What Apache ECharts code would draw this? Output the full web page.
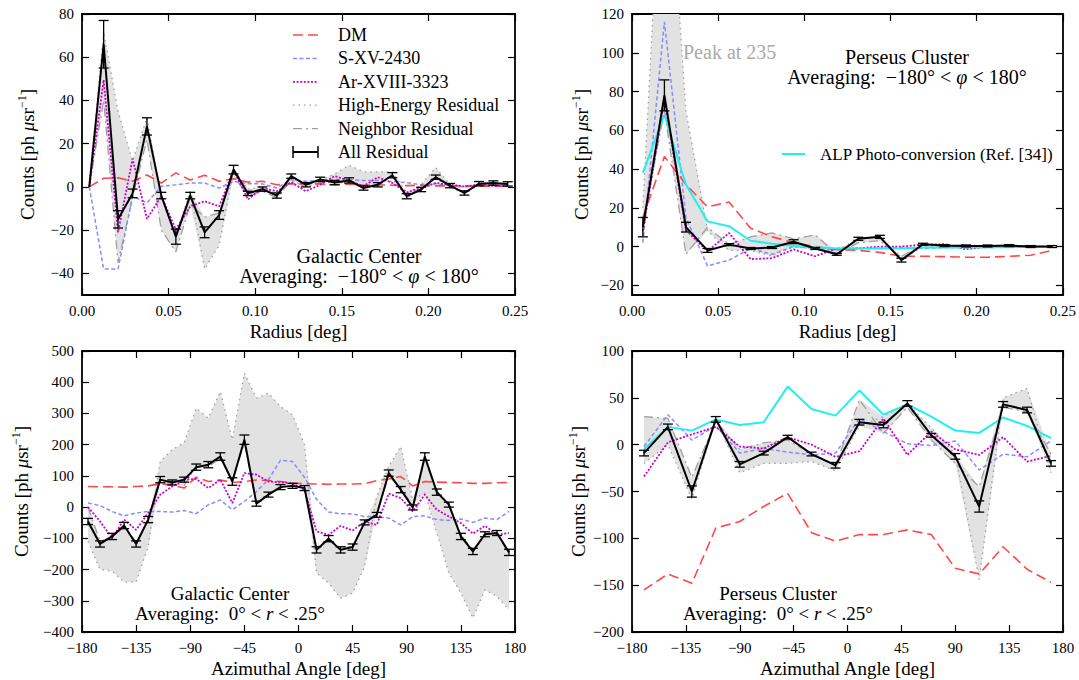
<!DOCTYPE html>
<html><head><meta charset="utf-8">
<script src="https://cdn.jsdelivr.net/npm/echarts@6.0.0/dist/echarts.min.js"></script>
<style>html,body{margin:0;padding:0;background:#fff}#c{width:1079px;height:680px}</style>
</head><body><div id="c"></div>
<script>
// ---------- DATA ----------
// Panel 1: Galactic Center, radial profile
const rGC = [0.0042,0.0125,0.0208,0.0292,0.0375,0.0458,0.0542,0.0625,0.0708,0.0792,0.0875,0.0958,0.1042,0.1125,0.1208,0.1292,0.1375,0.1458,0.1542,0.1625,0.1708,0.1792,0.1875,0.1958,0.2042,0.2125,0.2208,0.2292,0.2375,0.2458];
const gcR_dm  = [0,4,4.2,2.6,5.5,1.8,6.5,3.2,5.4,2.6,3.8,2.2,2.6,1,1.4,1.4,1.4,1,1.4,0.8,1,0.8,0.6,0.8,0.5,0.5,0.5,0.3,0.3,0.3];
const gcR_s   = [0,-38,-38,-4.3,-7.4,0.3,1,1.8,1.8,-0.5,2.6,1.5,1.4,-0.5,3.4,2.6,3,3.4,3.4,3,3,2.5,2,1,1.5,0.5,0,0.5,0.5,0.3];
const gcR_ar  = [0,49.5,-21,13,-14.8,-4.3,-19.7,-9,-6.6,-9,7.7,-5.8,-0.5,-2,2.2,-2,1,5,3,0.3,4.5,1.8,-2.5,-0.5,1.8,1,0.3,1,0.6,0.3];
const gcR_he  = [0,72,35,12,32,-5,-22,-2,-38,-27,8,-1,0,-3,4,1,3,6,10,7,7,7,-3,1,9,1,-3,1,1,1];
const gcR_nb  = [0,40,-35,-5,22,-20,-30,-8,-14,-12,5,-4,-2,-5,3,0,2,2,2,0,1,5,-5,-1,4,0,-3,1,1.5,1];
const gcR_all = [0,66,-15,-3,28,-4,-23,-4,-21,-13,8,-3,-1,-4,5,1,3.5,2,3,-0.5,1,5.4,-4.3,-1.2,4.5,0.6,-2.8,1.5,1.8,1.4];
const gcR_err = [0,11,4,2,4,1.5,3.5,1.5,2.5,2,2,1,1,1.2,1,1,1,1,1.2,1,1,1.2,1.2,1,1,1,1,1,1,1];

// Panel 2: Perseus Cluster, radial profile
const rPer = [0.0063,0.0188,0.0313,0.0438,0.0563,0.0688,0.0813,0.0938,0.1063,0.1188,0.1313,0.1438,0.1563,0.1688,0.1813,0.1938,0.2063,0.2188,0.2313,0.2438];
const perR_dm  = [15,46.5,32,20.5,23,9.5,5,2,0,-1.5,-2,-3,-5,-5,-5.2,-5.5,-5.5,-5,-4.5,-2];
const perR_s   = [2,116,15,-10,-7,-1,-4,0,-1,-1.5,-1,-1,-0.5,-1,-0.5,-0.5,-0.5,-0.3,-0.3,-0.2];
const perR_ar  = [8,76,8.5,-2.5,7,-6.5,-6,-1.5,-5,-1,-1,0,0,1,1.2,-1.4,0,0.5,0,0];
const perR_alp = [38,68,32,13,10.5,3,1.5,0.3,-0.3,-1,-1,-1,-1,-0.5,-0.5,-0.5,-0.3,-0.3,-0.2,-0.2];
const perR_he  = [20,235,70,8,-2,-2,-5,0,-1,-2,4,5,-7,0,-0.5,0,0,0,0,0];
const perR_nb  = [12,70,-4,10,1,5,7,4,6,-4,2,3,-5,1,0,1,0,0.5,0,0];
const perR_all = [10,78,10,-2,1,-1,-0.5,2.5,-1,-4,4,5,-7,1.2,0.5,0.3,0.3,0.5,0,0];
const perR_err = [5,8,2.5,1,0.5,0.5,0.5,1,0.5,0.5,0.8,0.8,1,0.5,0.5,0.5,0.5,0.5,0.5,0.5];

// Panel 3: Galactic Center, azimuthal profile
const phiGC = [-175,-165,-155,-145,-135,-125,-115,-105,-95,-85,-75,-65,-55,-45,-35,-25,-15,-5,5,15,25,35,45,55,65,75,85,95,105,115,125,135,145,155,165,175];
const gcA_dm  = [66,65,65,64,66,68,75,70,61,96,82,87,79,82,87,85,82,77,75,74,73,74,74,75,85,90,98,68,82,80,79,78,76,76,78,79];
const gcA_s   = [13,5,-14,-28,-19,-14,-14,-16,-11,-21,7,23,-8,18,50,88,150,146,95,25,-16,-21,-22,-30,-30,-35,-57,-30,-28,-40,-43,-38,-49,-35,-40,-14];
const gcA_ar  = [0,-46,-99,-40,-73,-19,40,66,88,90,61,88,13,109,104,82,79,77,55,-78,-89,-60,-75,-46,-57,43,29,-14,40,-8.5,-30,-51,-85,-60,-89,-83];
const gcA_he  = [-110,-200,-205,-240,-240,-126,146,184,207,317,285,370,216,429,349,365,322,296,200,-211,-243,-292,-275,-190,34,130,194,23,45,-83,-211,-275,-355,-265,-286,-329];
const gcA_nb  = [0,-110,-95,-65,-110,-45,80,75,70,130,130,155,85,205,15,40,62,70,70,-130,-100,-132,-125,-50,-20,100,60,5,155,50,10,-90,-135,-90,-85,-150];
const gcA_all = [-46,-118,-94,-59,-118,-40,88,79,88,128,136,162,82,216,11,40,64,68,61,-137,-101,-137,-128,-49,-25,109,56,-1,162,48,8,-94,-142,-87,-83,-145];
const gcA_err = [10,10,10,10,10,10,10,8,8,10,10,12,12,15,8,8,8,8,8,10,10,10,10,8,8,10,10,8,12,10,8,10,10,8,8,10];

// Panel 4: Perseus Cluster, azimuthal profile
const phiPer = [-170,-150,-130,-110,-90,-70,-50,-30,-10,10,30,50,70,90,110,130,150,170];
const perA_dm  = [-155,-138,-148,-89,-82,-66,-52,-94,-103,-96,-96,-91,-96,-132,-138,-109,-133,-147];
const perA_s   = [-2,32,5,20,-9,-4,-8,-11,-9,28,14,1,-1,4,-27,-10,-13,4];
const perA_ar  = [-34,2.5,11,19,-2,-4,8,0,-13,-7,28,-11,14,-5,-11,8,-18,-12];
const perA_alp = [-5,19,15,27,21,24,62,38,31,58,32,43,30,15,12.5,29,20,7];
const perA_he  = [-20,0,-58,28,-30,-20,-20,-18,-28,20,30,44,18,-10,-144,50,60,-30];
const perA_nb  = [30,28,-35,25,-5,2,5,-10,-22,48,12,40,5,-20,-45,40,35,-10];
const perA_all = [-9,19,-50,27,-21,-9,8,-10,-22,24,21,44,10,-12.5,-66,43,37,-20];
const perA_err = [3,3,6,3,3,2,2,2,3,3,3,3,2,3,6,3,3,3];

// Tick values
const yTicksGCR  = [-40,-20,0,20,40,60,80];
const yTicksPerR = [-20,0,20,40,60,80,100,120];

// ---------- STYLE ----------
const FONT = 'Liberation Serif, serif';
const C_DM = '#ff4747', C_S = '#8a8aff', C_AR = '#cc00cc', C_ALP = '#22eeee', C_G = '#a0a0a0', C_BAND = '#e2e2e2';
const D_DM = [10,5], D_S = [4,2.5], D_AR = [2,1.6], D_HE = [1.5,4], D_NB = [9,4,2,4];

const grids = [
  {left:82, top:14, width:433, height:281},
  {left:632, top:14, width:431, height:281},
  {left:82, top:351, width:433, height:281},
  {left:632, top:351, width:431, height:281}
];

const minusFmt = v => (v < 0 ? '\u2212' : '') + Math.abs(v);
const AX_LINE = {show:true, onZero:false, lineStyle:{color:'#000', width:1.8}};
const AX_TICK = {show:true, inside:true, length:7, lineStyle:{color:'#000', width:1.2}};
const NAME_STYLE = {fontFamily:FONT, fontSize:19, color:'#000'};
const LABEL = {color:'#000', fontFamily:FONT, fontSize:15};

const xAxes = [], yAxes = [];
function addX(gi, min, max, interval, fmt, name) {
  xAxes.push({type:'value', gridIndex:gi, position:'bottom', min, max, interval,
    axisLine:AX_LINE, axisTick:AX_TICK, splitLine:{show:false},
    axisLabel:Object.assign({formatter:fmt, margin:8}, LABEL),
    name, nameLocation:'middle', nameGap:27, nameTextStyle:NAME_STYLE});
  xAxes.push({type:'value', gridIndex:gi, position:'top', min, max, interval,
    axisLine:AX_LINE, axisTick:AX_TICK, splitLine:{show:false}, axisLabel:{show:false}});
}
function addY(gi, min, max, interval, custom, nameGap) {
  const lbl = Object.assign({formatter:minusFmt, margin:8}, LABEL);
  const tick = Object.assign({}, AX_TICK);
  if (custom) { lbl.customValues = custom; tick.customValues = custom; }
  const yname = 'Counts [ph {i|\u03bc}sr{s|\u22121}]';
  yAxes.push({type:'value', gridIndex:gi, position:'left', min, max, interval: custom ? undefined : interval,
    axisLine:AX_LINE, axisTick:tick, splitLine:{show:false}, axisLabel:lbl,
    name:yname, nameLocation:'middle', nameGap, nameRotate:90,
    nameTextStyle:Object.assign({lineHeight:22, rich:{
      i:{fontFamily:FONT, fontSize:19, fontStyle:'italic', color:'#000'},
      s:{fontFamily:FONT, fontSize:12, color:'#000', verticalAlign:'top', lineHeight:12}
    }}, NAME_STYLE)});
  yAxes.push({type:'value', gridIndex:gi, position:'right', min, max, interval: custom ? undefined : interval,
    axisLine:AX_LINE, axisTick:tick, splitLine:{show:false}, axisLabel:{show:false}});
}
addX(0, 0, 0.25, 0.05, v => v.toFixed(2), 'Radius [deg]');
addX(1, 0, 0.25, 0.05, v => v.toFixed(2), 'Radius [deg]');
addX(2, -180, 180, 45, minusFmt, 'Azimuthal Angle [deg]');
addX(3, -180, 180, 45, minusFmt, 'Azimuthal Angle [deg]');
addY(0, -50, 80, 20, yTicksGCR, 44);
addY(1, -25, 120, 20, yTicksPerR, 40);
addY(2, -400, 500, 100, null, 50);
addY(3, -200, 100, 50, null, 40);

// ---------- SERIES BUILDERS ----------
function line(gi, xs, ys, color, dash, width, z) {
  return {type:'line', xAxisIndex:2*gi, yAxisIndex:2*gi, data:xs.map((x,i)=>[x, ys[i]]),
    showSymbol:false, symbol:'none', z, silent:true, clip:true,
    lineStyle:{color, width, type:dash}};
}
function band(gi, xs, a, b) {
  return {type:'custom', xAxisIndex:2*gi, yAxisIndex:2*gi, z:1, silent:true, clip:true,
    data:xs.map((x,i)=>[x, Math.min(a[i],b[i]), Math.max(a[i],b[i])]),
    encode:{x:0, y:[1,2]},
    renderItem(params, api) {
      if (params.dataIndexInside !== 0) return null;
      const n = params.dataInsideLength, up = [], dn = [];
      for (let i = 0; i < n; i++) {
        const x = api.value(0, i);
        up.push(api.coord([x, api.value(2, i)]));
        dn.push(api.coord([x, api.value(1, i)]));
      }
      const cs = params.coordSys;
      return {type:'polygon', shape:{points:up.concat(dn.reverse())},
        style:{fill:C_BAND, stroke:null},
        clipPath:{type:'rect', shape:{x:cs.x, y:cs.y, width:cs.width, height:cs.height}}};
    }};
}
function errs(gi, xs, ys, es) {
  const data = [];
  xs.forEach((x,i) => { if (es[i] > 0) data.push([x, ys[i]-es[i], ys[i]+es[i]]); });
  return {type:'custom', xAxisIndex:2*gi, yAxisIndex:2*gi, z:7, silent:true,
    data, encode:{x:0, y:[1,2]},
    renderItem(params, api) {
      const x = api.value(0);
      const a = api.coord([x, api.value(2)]), b = api.coord([x, api.value(1)]);
      const w = 5, st = {stroke:'#000', lineWidth:1.3};
      return {type:'group', children:[
        {type:'line', shape:{x1:a[0], y1:a[1], x2:b[0], y2:b[1]}, style:st},
        {type:'line', shape:{x1:a[0]-w, y1:a[1], x2:a[0]+w, y2:a[1]}, style:st},
        {type:'line', shape:{x1:b[0]-w, y1:b[1], x2:b[0]+w, y2:b[1]}, style:st}]};
    }};
}
function panel(gi, xs, d) {
  const s = [band(gi, xs, d.he, d.nb),
    line(gi, xs, d.he, C_G, D_HE, 1.3, 2),
    line(gi, xs, d.nb, C_G, D_NB, 1.3, 2),
    line(gi, xs, d.s, C_S, D_S, 1.5, 3),
    line(gi, xs, d.dm, C_DM, D_DM, 1.6, 3),
    line(gi, xs, d.ar, C_AR, D_AR, 1.8, 4)];
  if (d.alp) s.push(line(gi, xs, d.alp, C_ALP, 'solid', 2, 4));
  s.push(line(gi, xs, d.all, '#000', 'solid', 2, 6));
  s.push(errs(gi, xs, d.all, d.err));
  return s;
}
const series = [].concat(
  panel(0, rGC, {dm:gcR_dm, s:gcR_s, ar:gcR_ar, he:gcR_he, nb:gcR_nb, all:gcR_all, err:gcR_err}),
  panel(1, rPer, {dm:perR_dm, s:perR_s, ar:perR_ar, alp:perR_alp, he:perR_he, nb:perR_nb, all:perR_all, err:perR_err}),
  panel(2, phiGC, {dm:gcA_dm, s:gcA_s, ar:gcA_ar, he:gcA_he, nb:gcA_nb, all:gcA_all, err:gcA_err}),
  panel(3, phiPer, {dm:perA_dm, s:perA_s, ar:perA_ar, alp:perA_alp, he:perA_he, nb:perA_nb, all:perA_all, err:perA_err})
);

// ---------- TEXT / LEGEND ----------
function txt(x, y, text, size, extra) {
  return {type:'text', x, y, z:100, style:Object.assign({text, fontFamily:FONT, fontSize:size, fill:'#000',
    align:'center', verticalAlign:'middle', lineHeight:size - 2,
    rich:{i:{fontFamily:FONT, fontSize:size, fontStyle:'italic', fill:'#000', lineHeight:size - 2}}}, extra || {})};
}
function seg(x1, y1, x2, y2, color, dash, width) {
  return {type:'line', z:100, shape:{x1, y1, x2, y2}, style:{stroke:color, lineWidth:width, lineDash:dash}};
}
const legendRows = [
  {label:'DM', color:C_DM, dash:D_DM, w:1.6},
  {label:'S-XV-2430', color:C_S, dash:D_S, w:1.5},
  {label:'Ar-XVIII-3323', color:C_AR, dash:D_AR, w:1.8},
  {label:'High-Energy Residual', color:C_G, dash:D_HE, w:1.3},
  {label:'Neighbor Residual', color:C_G, dash:D_NB, w:1.3},
  {label:'All Residual', color:'#000', dash:null, w:2, err:true}
];
const graphics = [];
legendRows.forEach((r, k) => {
  const y = 35 + k * 23.4;
  graphics.push(seg(293, y, 318, y, r.color, r.dash, r.w));
  if (r.err) {
    graphics.push(seg(293, y-6, 293, y+6, '#000', null, 1.5));
    graphics.push(seg(318, y-6, 318, y+6, '#000', null, 1.5));
  }
  graphics.push(txt(338, y, r.label, 18, {align:'left'}));
});
graphics.push(seg(782, 154, 805, 154, C_ALP, null, 2));
graphics.push(txt(820, 154, 'ALP Photo-conversion (Ref. [34])', 17, {align:'left'}));
graphics.push(txt(683, 52, 'Peak at 235', 20, {align:'left', fill:'#aaaaaa'}));
graphics.push(txt(359, 256, 'Galactic Center', 20));
graphics.push(txt(359, 276, 'Averaging:  \u2212180\u00b0 < {i|\u03c6} < 180\u00b0', 20));
graphics.push(txt(907, 57, 'Perseus Cluster', 20));
graphics.push(txt(907, 77, 'Averaging:  \u2212180\u00b0 < {i|\u03c6} < 180\u00b0', 20));
graphics.push(txt(230, 593, 'Galactic Center', 19));
graphics.push(txt(230, 613, 'Averaging:  0\u00b0 < {i|r} < .25\u00b0', 19));
graphics.push(txt(778, 593, 'Perseus Cluster', 19));
graphics.push(txt(778, 613, 'Averaging:  0\u00b0 < {i|r} < .25\u00b0', 19));

const chart = echarts.init(document.getElementById('c'), null, {renderer:'svg'});
chart.setOption({
  animation:false,
  backgroundColor:'#fff',
  grid:grids,
  xAxis:xAxes,
  yAxis:yAxes,
  series,
  graphic:graphics
});
</script></body></html>
